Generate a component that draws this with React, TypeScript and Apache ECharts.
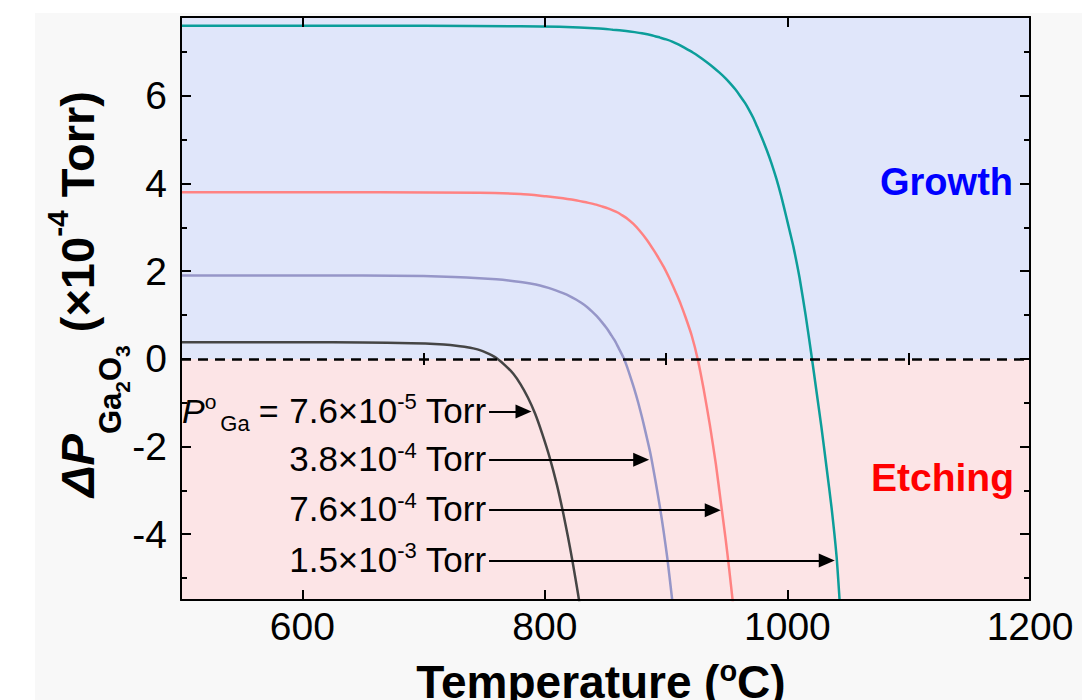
import React, { useEffect, useRef } from 'react';
import * as echarts from 'echarts';

// ---------- axes ----------
const X_MIN = 500;
const X_MAX = 1200;
const Y_MIN = -5.5;
const Y_MAX = 7.8;
const X_MAJOR = [600, 800, 1000, 1200];
const X_MINOR = [700, 900, 1100];
const Y_MAJOR = [-4, -2, 0, 2, 4, 6];
const Y_MINOR = [-5, -3, -1, 1, 3, 5, 7];

// ---------- curves (T in °C, ΔP in 1e-4 Torr) ----------
const T_BLACK = [500, 600, 650, 690, 713, 722, 730, 736, 741, 747, 752, 756, 760, 767, 774, 780, 786, 792, 798, 804, 810, 815, 819, 823, 827, 829];
const V_BLACK = [0.38, 0.38, 0.377, 0.36, 0.335, 0.315, 0.29, 0.268, 0.24, 0.195, 0.14, 0.085, 0.02, -0.14, -0.34, -0.58, -0.88, -1.25, -1.72, -2.25, -2.88, -3.5, -4.05, -4.65, -5.3, -5.65];

const T_PURPLE = [500, 650, 700, 725, 746, 760, 770, 780, 788, 796, 803, 809, 815, 820, 826, 830, 835, 839, 843, 847, 851, 855, 858, 861, 865, 868, 871, 874, 877, 880, 882, 887, 891, 895, 898, 901, 905];
const V_PURPLE = [1.9, 1.9, 1.89, 1.87, 1.84, 1.815, 1.79, 1.755, 1.72, 1.675, 1.62, 1.565, 1.5, 1.44, 1.35, 1.28, 1.18, 1.08, 0.97, 0.84, 0.7, 0.53, 0.4, 0.24, 0.02, -0.2, -0.45, -0.71, -1.0, -1.32, -1.55, -2.15, -2.75, -3.4, -3.95, -4.55, -5.5];

const T_RED = [500, 664, 746, 780, 801, 808, 815, 822, 829, 834, 838, 843, 847, 852, 856, 860, 863, 868, 873, 878, 884, 890, 894, 898, 902, 906, 909, 912, 916, 921, 926, 931, 936, 941, 945, 949, 952, 955];
const V_RED = [3.8, 3.8, 3.79, 3.76, 3.71, 3.69, 3.665, 3.635, 3.6, 3.572, 3.548, 3.515, 3.48, 3.435, 3.39, 3.34, 3.29, 3.2, 3.08, 2.93, 2.72, 2.47, 2.29, 2.1, 1.88, 1.64, 1.45, 1.25, 0.95, 0.54, 0.0, -0.7, -1.5, -2.4, -3.25, -4.1, -4.8, -5.55];

const T_TEAL = [500, 700, 780, 812, 845, 856, 867, 874, 880, 888, 895, 900, 905, 910, 915, 922, 927, 933, 939, 944, 949, 953, 957, 961, 965, 968, 972, 975, 979, 983, 987, 991, 995, 999, 1002, 1005, 1010, 1015, 1020, 1024, 1028, 1032, 1036.5, 1040.5, 1043];
const V_TEAL = [7.6, 7.6, 7.59, 7.575, 7.54, 7.51, 7.48, 7.455, 7.43, 7.385, 7.33, 7.29, 7.24, 7.175, 7.1, 6.99, 6.9, 6.78, 6.65, 6.53, 6.4, 6.28, 6.15, 6.0, 5.84, 5.7, 5.49, 5.3, 5.04, 4.76, 4.45, 4.1, 3.7, 3.25, 2.9, 2.55, 1.85, 1.0, 0.05, -0.75, -1.55, -2.42, -3.42, -4.5, -5.5];

const SERIES_NAMES = ['7.6e-5 Torr', '3.8e-4 Torr', '7.6e-4 Torr', '1.5e-3 Torr'];
const SERIES_T = [T_BLACK, T_PURPLE, T_RED, T_TEAL];
const SERIES_V = [V_BLACK, V_PURPLE, V_RED, V_TEAL];
const SERIES_COLORS = ['#454545', '#9696C8', '#FF8282', '#0C9E9A'];

// ---------- annotations ----------
const ANN_MANTISSA = ['7.6×10', '3.8×10', '7.6×10', '1.5×10'];
const ANN_EXP = ['-5', '-4', '-4', '-3'];
const ARROW_Y = [-1.2, -2.3, -3.45, -4.6];
const ARROW_FROM = 754;
const ARROW_TIP = [789, 886, 945, 1039];

// ---------- layout ----------
const GRID_LEFT = 181;
const GRID_TOP = 17;
const GRID_W = 849;
const GRID_H = 583;
const BLUE = '#E0E6FA';
const PINK = '#FCE4E6';
const FONT = '"Liberation Sans", Arial, Helvetica, sans-serif';

const pxPerX = GRID_W / (X_MAX - X_MIN);
const px = (t: number) => GRID_LEFT + (t - X_MIN) * pxPerX;
const py = (v: number) => GRID_TOP + ((Y_MAX - v) / (Y_MAX - Y_MIN)) * GRID_H;

let _ctx: CanvasRenderingContext2D | null = null;
function measure(text: string, size: number, bold: boolean, italic: boolean) {
  if (!_ctx) _ctx = document.createElement('canvas').getContext('2d');
  _ctx!.font = `${italic ? 'italic ' : ''}${bold ? 'bold ' : ''}${size}px ${FONT}`;
  return _ctx!.measureText(text).width;
}

type Piece = { t: string; s: number; b?: boolean; i?: boolean; dy?: number; gap?: number };
function runText(pieces: Piece[], x0: number, base: number, align: 'left' | 'right' | 'center', color: string) {
  const widths = pieces.map((p) => measure(p.t, p.s, !!p.b, !!p.i) + (p.gap || 0));
  const total = widths.reduce((a, b) => a + b, 0);
  let x = align === 'left' ? x0 : align === 'right' ? x0 - total : x0 - total / 2;
  return pieces.map((p, k) => {
    const el = {
      type: 'text',
      x: x + (p.gap || 0),
      y: base + (p.dy || 0) - 0.35 * p.s,
      z: 100,
      silent: true,
      style: {
        text: p.t,
        fontSize: p.s,
        fontWeight: p.b ? 'bold' : 'normal',
        fontStyle: p.i ? 'italic' : 'normal',
        fontFamily: FONT,
        fill: color,
        align: 'left',
        verticalAlign: 'middle',
      },
    };
    x += widths[k];
    return el;
  });
}

function buildOption() {
  const tickLine = { color: '#000', width: 2 };
  const axisLineStyle = { show: true, onZero: false, lineStyle: { color: '#000', width: 2 } };
  const xBase = { type: 'value', min: X_MIN, max: X_MAX, z: 10, splitLine: { show: false } };
  const yBase = { type: 'value', min: Y_MIN, max: Y_MAX, z: 10, splitLine: { show: false } };
  const labelStyle = { fontSize: 39, color: '#000', fontFamily: FONT, formatter: (v: number) => String(v) };

  const xAxis = [
    { ...xBase, position: 'bottom', axisLine: axisLineStyle,
      axisTick: { show: true, inside: true, length: 10, customValues: X_MAJOR, lineStyle: tickLine },
      axisLabel: { show: true, customValues: X_MAJOR, margin: 7, ...labelStyle } },
    { ...xBase, position: 'bottom', axisLine: { show: false },
      axisTick: { show: true, inside: true, length: 6, customValues: X_MINOR, lineStyle: tickLine },
      axisLabel: { show: false } },
    { ...xBase, position: 'top', axisLine: axisLineStyle,
      axisTick: { show: true, inside: true, length: 10, customValues: X_MAJOR, lineStyle: tickLine },
      axisLabel: { show: false } },
    { ...xBase, position: 'top', axisLine: { show: false },
      axisTick: { show: true, inside: true, length: 6, customValues: X_MINOR, lineStyle: tickLine },
      axisLabel: { show: false } },
  ];
  const yAxis = [
    { ...yBase, position: 'left', axisLine: axisLineStyle,
      axisTick: { show: true, inside: true, length: 10, customValues: Y_MAJOR, lineStyle: tickLine },
      axisLabel: { show: true, customValues: Y_MAJOR, margin: 14, ...labelStyle } },
    { ...yBase, position: 'left', axisLine: { show: false },
      axisTick: { show: true, inside: true, length: 6, customValues: Y_MINOR, lineStyle: tickLine },
      axisLabel: { show: false } },
    { ...yBase, position: 'right', axisLine: axisLineStyle,
      axisTick: { show: true, inside: true, length: 10, customValues: Y_MAJOR, lineStyle: tickLine },
      axisLabel: { show: false } },
    { ...yBase, position: 'right', axisLine: { show: false },
      axisTick: { show: true, inside: true, length: 6, customValues: Y_MINOR, lineStyle: tickLine },
      axisLabel: { show: false } },
  ];

  const headLen = 16;
  const arrowData = ARROW_Y.map((v, k) => [
    { coord: [ARROW_FROM, v] },
    { coord: [ARROW_TIP[k] - headLen / 2 / pxPerX, v] },
  ]);

  const series: any[] = [
    {
      type: 'line',
      name: 'regions',
      data: [[X_MIN, 0]],
      showSymbol: false,
      symbol: 'none',
      z: 1,
      silent: true,
      lineStyle: { width: 0 },
      markArea: {
        silent: true,
        data: [
          [{ yAxis: 0, itemStyle: { color: BLUE } }, { yAxis: Y_MAX }],
          [{ yAxis: Y_MIN, itemStyle: { color: PINK } }, { yAxis: 0 }],
        ],
      },
      markLine: {
        silent: true,
        symbol: ['none', 'none'],
        label: { show: false },
        lineStyle: { color: '#000', width: 2.5, type: [10, 7] },
        data: [{ yAxis: 0 }],
      },
    },
  ];
  SERIES_T.forEach((ts, k) => {
    series.push({
      type: 'line',
      name: SERIES_NAMES[k],
      data: ts.map((t, j) => [t, SERIES_V[k][j]]),
      showSymbol: false,
      symbol: 'none',
      smooth: 0.2,
      z: 3,
      lineStyle: { color: SERIES_COLORS[k], width: 2.5 },
    });
  });
  series.push({
    type: 'line',
    name: 'arrows',
    data: [[X_MIN, 0]],
    showSymbol: false,
    symbol: 'none',
    z: 5,
    lineStyle: { width: 0 },
    markLine: {
      silent: true,
      symbol: ['none', 'triangle'],
      symbolSize: [14, headLen],
      label: { show: false },
      lineStyle: { color: '#000', width: 2, type: 'solid' },
      data: arrowData,
    },
  });

  // graphic texts
  const graphics: any[] = [];
  graphics.push({ type: 'rect', z: -100, silent: true, shape: { x: 35, y: 13, width: 1047, height: 687 }, style: { fill: '#f8f8f8' } });

  // y axis title (rotated)
  const yTitle = runText(
    [
      { t: 'ΔP', s: 47, b: true, i: true },
      { t: 'Ga', s: 31, b: true, dy: 27 },
      { t: '2', s: 21, b: true, dy: 36 },
      { t: 'O', s: 31, b: true, dy: 27 },
      { t: '3', s: 21, b: true, dy: 36 },
      { t: '(×10', s: 47, b: true, gap: 13 },
      { t: '-4', s: 30, b: true, dy: -26 },
      { t: 'Torr)', s: 47, b: true, gap: 13 },
    ],
    0, 0, 'center', '#000'
  );
  graphics.push({ type: 'group', x: 94, y: 294, rotation: Math.PI / 2, z: 100, children: yTitle });

  // x axis title
  graphics.push(
    ...runText(
      [
        { t: 'Temperature', s: 46, b: true },
        { t: '(', s: 46, b: true, gap: 12.5 },
        { t: 'o', s: 29, b: true, dy: -17 },
        { t: 'C)', s: 46, b: true },
      ],
      601, 698, 'center', '#000'
    )
  );

  // region labels
  graphics.push(...runText([{ t: 'Growth', s: 38, b: true }], 1013, 195, 'right', '#0000FF'));
  graphics.push(...runText([{ t: 'Etching', s: 39, b: true }], 1014, 491, 'right', '#FF0000'));

  // pressure annotations
  const rightX = px(ARROW_FROM) - 3;
  ARROW_Y.forEach((v, k) => {
    const base = py(v) + 11;
    graphics.push(
      ...runText(
        [
          { t: ANN_MANTISSA[k], s: 35 },
          { t: ANN_EXP[k], s: 22, dy: -13 },
          { t: 'Torr', s: 35, gap: 9 },
        ],
        rightX, base, 'right', '#000'
      )
    );
    if (k === 0) {
      graphics.push(
        ...runText(
          [
            { t: 'P', s: 34, i: true },
            { t: 'o', s: 21, dy: -14 },
            { t: 'Ga', s: 22, dy: 9, gap: 4 },
            { t: '=', s: 34, gap: 9 },
          ],
          182, base, 'left', '#000'
        )
      );
    }
  });

  return {
    animation: false,
    backgroundColor: '#ffffff',
    grid: { left: GRID_LEFT, top: GRID_TOP, width: GRID_W, height: GRID_H, containLabel: false },
    xAxis,
    yAxis,
    series,
    graphic: graphics,
  };
}

export default function App() {
  const ref = useRef<HTMLDivElement>(null);
  useEffect(() => {
    const chart = echarts.init(ref.current!, null, { renderer: 'svg' });
    chart.setOption(buildOption() as any);
    return () => chart.dispose();
  }, []);
  return <div ref={ref} style={{ position: 'fixed', left: 0, top: 0, width: 1082, height: 700 }} />;
}
